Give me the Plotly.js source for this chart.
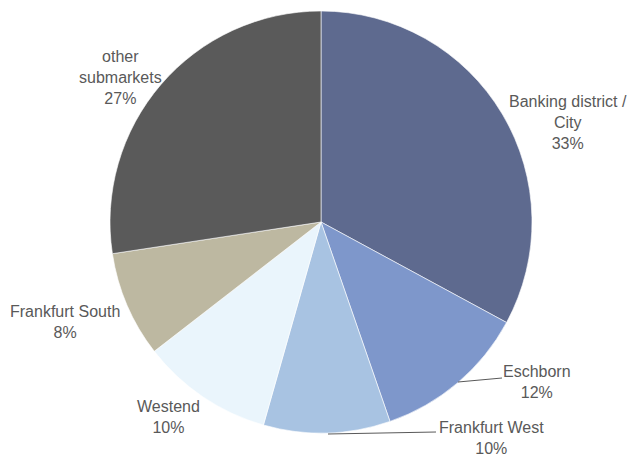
<!DOCTYPE html>
<html>
<head>
<meta charset="utf-8">
<script src="https://cdn.plot.ly/plotly-3.0.1.min.js"></script>
<style>html,body{margin:0;padding:0;background:#fff}#chart{width:634px;height:457px}</style>
</head>
<body>
<div id="chart"></div>
<script>
var categories = ["Banking district /<br>City", "Eschborn", "Frankfurt West", "Westend", "Frankfurt South", "other<br>submarkets"];
var shares = [32.9, 11.8, 9.7, 10.1, 8.1, 27.4];
var colors = ["#5e6a8f", "#7e97cb", "#a8c3e2", "#eaf5fc", "#bdb8a1", "#5a5a5a"];
// label anchor positions in pixels (layout)
var labelPos = [[568, 123], [537, 382], [491, 438], [168, 417], [65, 322], [120, 78]];
var leaders = {1: [[458, 382], [502, 378]], 2: [[328, 434], [436, 432]]};

var W = 634, H = 457;
var cx = 321, cy = 222, R = 211;

var trace = {
  type: "pie",
  values: shares,
  labels: categories,
  sort: false,
  direction: "clockwise",
  rotation: 0,
  textinfo: "none",
  hoverinfo: "label+percent",
  marker: {colors: colors, line: {color: "#ffffff", width: 0.6}},
  domain: {x: [(cx - R) / W, (cx + R) / W], y: [1 - (cy + R) / H, 1 - (cy - R) / H]},
  showlegend: false
};

var annotations = categories.map(function (c, i) {
  return {
    text: c + "<br>" + Math.round(shares[i]) + "%",
    xref: "paper", yref: "paper",
    x: labelPos[i][0] / W, y: 1 - labelPos[i][1] / H,
    xanchor: "center", yanchor: "middle",
    showarrow: false,
    font: {family: "Liberation Sans, Arial, sans-serif", size: 16, color: "#595959"}
  };
});

var shapes = Object.keys(leaders).map(function (k) {
  var p = leaders[k];
  return {type: "line", xref: "paper", yref: "paper",
    x0: p[0][0] / W, y0: 1 - p[0][1] / H, x1: p[1][0] / W, y1: 1 - p[1][1] / H,
    line: {color: "#595959", width: 1}};
});

var layout = {
  width: W, height: H,
  margin: {l: 0, r: 0, t: 0, b: 0},
  paper_bgcolor: "#ffffff",
  annotations: annotations,
  shapes: shapes
};

Plotly.newPlot("chart", [trace], layout, {displayModeBar: false, staticPlot: true});
</script>
</body>
</html>
